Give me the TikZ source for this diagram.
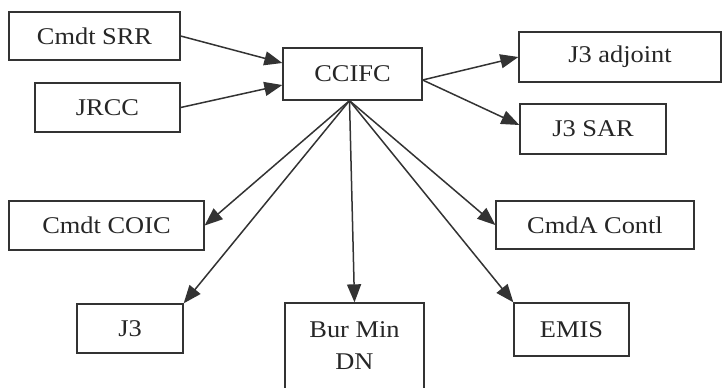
\documentclass[tikz,border=0pt]{standalone}
\usepackage{fontspec}
\setmainfont{Liberation Serif}[FakeStretch=1.1]
\usepackage{tikz}
\usetikzlibrary{arrows.meta}
\tikzset{box/.style = {draw = black!80, line width = 1.3pt, text = black!85, inner sep = 0,
    font = \fontsize{24}{32}\selectfont},
  arr/.style = {draw = black!80, line width = 1.5pt, -{Triangle[length = 18pt, width = 14pt]}}}

\begin{document}
\begin{tikzpicture}[x=1pt, y=-1pt]
    \useasboundingbox (0, 0) rectangle (723, 389);
    \clip (0, 0) rectangle (723, 387.5);

    \node [box, minimum width = 171, minimum height = 48] (srr) at (94.5, 36) {Cmdt SRR};
    \node [box, minimum width = 145, minimum height = 49] (jrcc) at (107.5, 107.5) {JRCC};
    \node [box, minimum width = 139, minimum height = 52] (ccifc) at (352.5, 74) {CCIFC};
    \node [box, minimum width = 202, minimum height = 50] (adjoint) at (620, 57) {J3 adjoint};
    \node [box, minimum width = 146, minimum height = 50] (sar) at (593, 129) {J3 SAR};

    \node [box, minimum width = 195, minimum height = 49] (coic) at (106.5, 225.5) {Cmdt COIC};
    \node [box, minimum width = 198, minimum height = 48] (contl) at (595, 225) {CmdA Contl};
    \node [box, minimum width = 106, minimum height = 49] (jthree) at (130, 328.5) {J3};
    \node [box, minimum width = 139, minimum height = 86, align = center] (burmin) at (354.5, 346) {Bur Min\\DN};
    \node [box, minimum width = 115, minimum height = 53] (emis) at (571.5, 329.5) {EMIS};

    \draw [arr] (srr.east) -- ([yshift=11pt]ccifc.west);
    \draw [arr] (jrcc.east) -- ([yshift=-11pt]ccifc.west);
    \draw [arr] ([yshift=-6pt]ccifc.east) -- (adjoint.west);
    \draw [arr] ([yshift=-6pt]ccifc.east) -- ([yshift=4pt]sar.west);

    \foreach \target/\side in {coic/east, jthree/north east, burmin/north, contl/west, emis/north west} {
      \draw [arr] ([xshift=-3pt]ccifc.south) -- (\target.\side);
    }
  \end{tikzpicture}
\end{document}
